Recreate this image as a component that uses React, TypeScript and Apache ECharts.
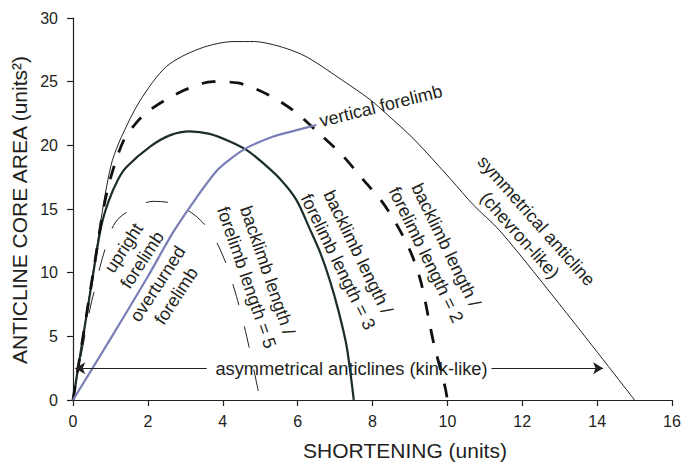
import React, { useEffect, useRef } from "react";
import * as echarts from "echarts";

const xTicks = [0, 2, 4, 6, 8, 10, 12, 14, 16];
const yTicks = [0, 5, 10, 15, 20, 25, 30];

// symmetrical anticline (chevron-like)
const symmetricalCurve = [
  [0, 0], [0.55, 10.3], [0.75, 14.2], [0.9, 16.8], [1.05, 18.8], [1.3, 20.7],
  [1.79, 23.5], [2.5, 26.2], [3.39, 27.6], [4.3, 28.15], [4.85, 28.15], [5.35, 27.9],
  [5.85, 27.45], [6.3, 26.85], [7.2, 25.1], [7.93, 23.6], [8.4, 22.4], [9.1, 20.5],
  [10.1, 17.3], [10.7, 15.3], [11.4, 13.3], [13.19, 6.8], [15, 0],
];
// backlimb / forelimb = 2
const ratio2Curve = [
  [0, 0], [0.55, 10.2], [0.8, 14.8], [1.0, 17.4], [1.34, 20.3], [1.7, 21.8], [2.06, 22.8],
  [2.95, 24.3], [3.74, 25.0], [4.4, 24.9], [5.2, 24.0], [5.9, 22.7], [6.55, 21.0],
  [7.2, 19.2], [7.75, 17.3], [8.25, 15.6], [8.7, 13.5], [9.05, 11.4], [9.3, 9.2],
  [9.54, 5.8], [9.64, 4.4], [9.94, 1.0], [10, 0],
];
// backlimb / forelimb = 3
const ratio3Curve = [
  [0, 0], [0.55, 10.1], [0.75, 13.6], [0.95, 15.6], [1.2, 17.3], [1.43, 18.3],
  [2.06, 19.9], [2.6, 20.8], [3.12, 21.1], [3.65, 20.9], [4.19, 20.3], [4.65, 19.6],
  [5.08, 18.6], [5.55, 17.3], [5.97, 15.7], [6.33, 13.4], [6.6, 11.6], [6.86, 9.4],
  [7.1, 6.9], [7.31, 4.2], [7.5, 0],
];
// backlimb / forelimb = 5
const ratio5Curve = [
  [0, 0], [0.45, 7.1], [0.63, 9.3], [0.8, 11.3], [1.12, 13.9], [1.57, 15.0],
  [2.14, 15.6], [2.72, 15.4], [3.26, 14.5], [3.7, 13.1], [4.05, 11.0],
  [4.3, 8.8], [4.5, 6.7], [4.7, 4.2], [4.9, 1.4], [5.0, 0],
];
// overturned -> vertical forelimb
const forelimbCurve = [
  [0, 0], [1, 4.8], [2, 9.7], [2.68, 13.2], [3.3, 15.9], [3.84, 18.0],
  [4.19, 18.9], [4.64, 19.8], [5.35, 20.7], [5.8, 21.06], [6.5, 21.6],
];
// asymmetrical anticlines arrows
const arrowLeft = [[3.57, 2.5], [0.06, 2.5]];
const arrowRight = [[11.18, 2.5], [14.16, 2.5]];

const INK = "#231f20";
const FONT = "'Liberation Sans', Arial, Helvetica, sans-serif";

function label(text: string, x: number, y: number, deg: number, size = 18) {
  return {
    type: "text",
    x,
    y,
    rotation: (deg * Math.PI) / 180,
    silent: true,
    style: {
      text,
      fill: INK,
      fontSize: size,
      fontFamily: FONT,
      align: "center",
      verticalAlign: "middle",
      lineHeight: 22,
    },
  };
}

export default function App() {
  const ref = useRef<HTMLDivElement>(null);
  useEffect(() => {
    if (!ref.current) return;
    const chart = echarts.init(ref.current, undefined, { renderer: "svg" });
    const curve = (data: number[][], color: string, width: number, type: any, z = 2) => ({
      type: "line",
      data,
      smooth: 0.3,
      showSymbol: false,
      symbol: "none",
      z,
      lineStyle: { color, width, type, cap: "butt" },
    });
    chart.setOption({
      animation: false,
      grid: { left: 73, top: 18, right: 12, bottom: 65, containLabel: false },
      xAxis: {
        type: "value",
        min: xTicks[0],
        max: xTicks[xTicks.length - 1],
        interval: xTicks[1] - xTicks[0],
        axisLine: { show: true, onZero: false, lineStyle: { color: INK, width: 1.2 } },
        axisTick: { show: true, length: 6, lineStyle: { color: INK, width: 1.2 } },
        axisLabel: { color: INK, fontSize: 16, fontFamily: FONT, margin: 13 },
        splitLine: { show: false },
      },
      yAxis: {
        type: "value",
        min: yTicks[0],
        max: yTicks[yTicks.length - 1],
        interval: yTicks[1] - yTicks[0],
        axisLine: { show: true, onZero: false, lineStyle: { color: INK, width: 1.2 } },
        axisTick: { show: true, length: 6, lineStyle: { color: INK, width: 1.2 } },
        axisLabel: { color: INK, fontSize: 16, fontFamily: FONT, margin: 15 },
        splitLine: { show: false },
      },
      series: [
        curve(symmetricalCurve, INK, 1, "solid"),
        curve(ratio5Curve, INK, 1, [22, 22]),
        curve(ratio3Curve, "#1c2e2c", 2.2, "solid"),
        curve(ratio2Curve, "#111111", 2.8, [14, 14]),
        curve(forelimbCurve, "#7a7eb6", 2.2, "solid", 3),
        {
          type: "line",
          data: [],
          markLine: {
            silent: true,
            symbol: ["none", "arrow"],
            symbolSize: [9, 10],
            label: { show: false },
            lineStyle: { color: INK, width: 1.2, type: "solid" },
            data: [
              [{ coord: arrowLeft[0] }, { coord: arrowLeft[1] }],
              [{ coord: arrowRight[0] }, { coord: arrowRight[1] }],
            ],
          },
        },
      ],
      graphic: [
        label("ANTICLINE CORE AREA (units²)", 19, 210, 90, 21),
        label("SHORTENING (units)", 405, 450, 0, 21),
        label("upright\nforelimb", 133, 254, 57),
        label("overturned\nforelimb", 167, 290, 57),
        label("backlimb length /\nforelimb length = 5", 257, 274, -71),
        label("backlimb length /\nforelimb length = 3", 348, 257, -64),
        label("backlimb length /\nforelimb length = 2", 436, 250, -64),
        label("symmetrical anticline\n(chevron-like)", 528, 228, -48.5),
        label("vertical forelimb", 381, 106, 14),
        label("asymmetrical anticlines (kink-like)", 351.5, 368.5, 0, 18.3),
      ],
    });
    return () => chart.dispose();
  }, []);
  return (
    <div
      ref={ref}
      style={{ position: "absolute", left: 0, top: 0, width: 684, height: 465, background: "#fff" }}
    />
  );
}
